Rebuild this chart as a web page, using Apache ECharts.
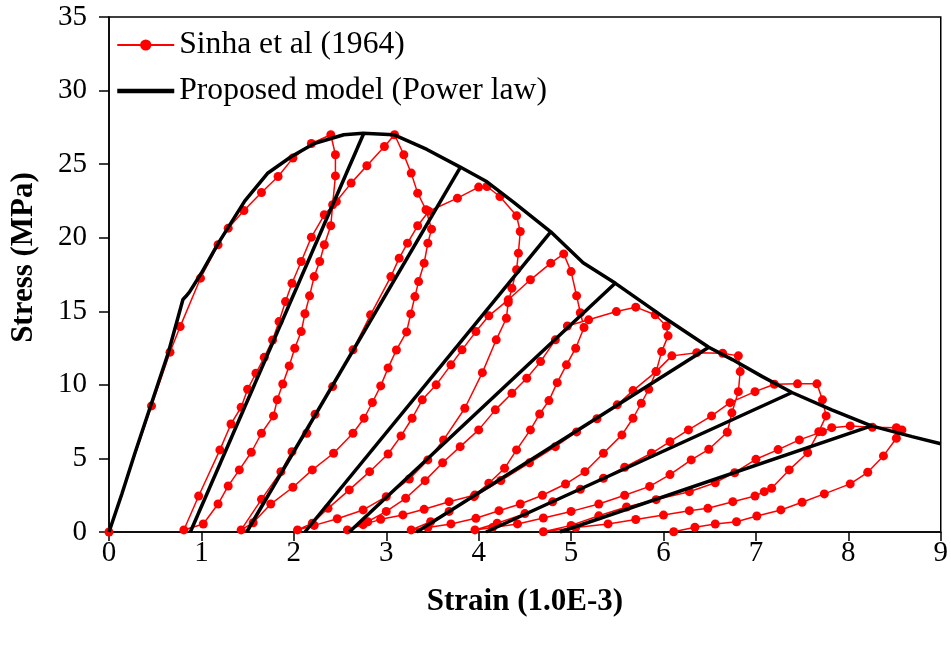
<!DOCTYPE html>
<html><head><meta charset="utf-8">
<script src="https://cdn.jsdelivr.net/npm/echarts@6/dist/echarts.min.js"></script>
<style>html,body{margin:0;padding:0;background:#fff}#c{width:951px;height:650px}</style>
</head><body><div id="c"></div>
<script>
// ---- Experimental data (Sinha et al 1964): [strain(1e-3), stress(MPa)] ----
const loading0 = [[0,0],[0.46,8.57],[0.66,12.22],[0.77,13.96],[0.99,17.25],[1.18,19.52],[1.29,20.65],[1.46,21.85],[1.65,23.07],[1.83,24.16],[1.99,25.41],[2.19,26.40],[2.40,27.0]];
const unload1 = [[2.45,25.64],[2.45,24.2],[2.42,22.24],[2.40,20.81],[2.33,19.52],[2.28,18.38],[2.22,17.36],[2.17,16.05],[2.12,14.83],[2.08,13.62],[2.01,12.49],[1.95,11.29],[1.88,10.06],[1.82,8.98],[1.78,7.89],[1.65,6.71],[1.54,5.42],[1.41,4.22],[1.29,3.13],[1.18,1.90],[1.02,0.54],[0.81,0.14]];
const reload1 = [[0.97,2.45],[1.20,5.58],[1.32,7.34],[1.43,8.48],[1.50,9.70],[1.59,10.79],[1.68,11.87],[1.77,13.05],[1.84,14.30],[1.91,15.66],[1.98,16.90],[2.08,18.38],[2.19,20.04],[2.33,21.56],[2.46,22.46],[2.62,23.71],[2.79,24.89],[2.98,26.2],[3.09,27.0]];
const unload2 = [[3.19,25.64],[3.27,24.39],[3.34,23.03],[3.43,21.9],[3.49,20.58],[3.45,19.63],[3.41,18.27],[3.35,17.02],[3.31,16.0],[3.265,14.82],[3.22,13.60],[3.11,12.37],[3.02,11.15],[2.94,9.93],[2.85,8.8],[2.76,7.73],[2.64,6.71],[2.43,5.35],[2.20,4.22],[1.99,3.04],[1.75,1.90],[1.56,0.63],[1.43,0.14]];
const reload2 = [[1.65,2.22],[1.86,4.10],[1.98,5.46],[2.14,6.71],[2.23,8.0],[2.42,9.88],[2.64,12.38],[2.83,14.76],[3.05,17.36],[3.14,18.61],[3.23,19.63],[3.34,20.81],[3.46,21.8],[3.77,22.69],[4.00,23.44],[4.09,23.48]];
const unload3 = [[4.23,22.80],[4.41,21.49],[4.45,20.42],[4.43,18.95],[4.41,17.82],[4.36,16.57],[4.32,15.6],[4.30,14.53],[4.19,13.06],[4.04,10.83],[3.85,8.41],[3.62,6.26],[3.45,4.9],[3.25,3.6],[3.00,2.4],[2.75,1.5],[2.47,0.9],[2.22,0.45],[2.04,0.14]];
const reload3 = [[2.20,0.6],[2.37,1.61],[2.60,2.86],[2.82,4.10],[3.02,5.30],[3.16,6.53],[3.28,7.73],[3.39,8.98],[3.54,10.0],[3.70,11.36],[3.82,12.38],[3.97,13.62],[4.11,14.69],[4.32,15.78],[4.56,17.14],[4.78,18.27],[4.92,18.9]];
const unload4 = [[5.00,17.7],[5.06,16.05],[5.10,14.9],[5.14,13.9],[5.05,12.49],[4.95,11.36],[4.85,10.15],[4.76,8.93],[4.66,8.02],[4.56,6.94],[4.41,5.58],[4.28,4.33],[4.11,3.31],[3.96,2.52],[3.68,2.06],[3.41,1.54],[3.18,1.16],[2.94,0.86],[2.75,0.5],[2.58,0.14]];
const reload4 = [[2.80,0.7],[3.00,1.4],[3.21,2.29],[3.42,3.49],[3.61,4.71],[3.80,5.80],[4.00,6.94],[4.18,8.30],[4.36,9.43],[4.52,10.45],[4.67,11.58],[4.83,13.06],[4.96,14.0],[5.19,14.42],[5.49,14.98],[5.70,15.28]];
const unload5 = [[5.91,14.76],[6.03,14.0],[6.05,13.33],[5.98,12.26],[5.92,10.9],[5.84,9.70],[5.76,8.75],[5.67,7.73],[5.55,6.60],[5.35,5.35],[5.15,4.10],[4.94,3.26],[4.69,2.5],[4.45,1.9],[4.22,1.45],[3.97,0.93],[3.70,0.55],[3.45,0.3],[3.27,0.14]];
const reload5 = [[3.48,0.7],[3.68,1.4],[3.95,2.4],[4.24,3.5],[4.55,4.7],[4.83,5.8],[5.06,6.8],[5.28,7.7],[5.50,8.64],[5.67,9.61],[5.92,10.9],[6.09,11.97],[6.36,12.19],[6.64,12.15],[6.81,11.97]];
const unload6 = [[6.83,10.9],[6.81,9.54],[6.74,8.1],[6.69,6.78],[6.49,5.62],[6.30,4.90],[6.07,3.9],[5.85,3.1],[5.58,2.5],[5.30,1.9],[5.00,1.4],[4.70,0.95],[4.42,0.55],[4.15,0.3],[3.96,0.14]];
const reload6 = [[4.20,0.6],[4.50,1.25],[4.80,2.05],[5.10,2.9],[5.35,3.65],[5.58,4.40],[5.87,5.35],[6.07,6.14],[6.27,6.94],[6.52,7.89],[6.72,8.79],[6.99,9.54],[7.20,10.04],[7.45,10.07],[7.66,10.07]];
const unload7 = [[7.72,8.98],[7.76,7.89],[7.68,6.82],[7.56,5.39],[7.36,4.22],[7.17,2.97],[7.09,2.74],[6.99,2.45],[6.75,2.06],[6.48,1.61],[6.28,1.45],[6.00,1.15],[5.70,0.85],[5.40,0.55],[5.05,0.3],[4.70,0.02]];
const reload7 = [[5.00,0.45],[5.30,1.1],[5.60,1.7],[5.92,2.2],[6.28,2.74],[6.56,3.35],[6.77,4.03],[7.00,4.94],[7.24,5.6],[7.47,6.26],[7.72,6.82],[7.82,7.09],[8.02,7.21],[8.26,7.12],[8.52,7.09],[8.58,6.94]];
const unload8 = [[8.52,6.37],[8.38,5.17],[8.21,4.06],[8.02,3.27],[7.74,2.59],[7.50,2.02],[7.27,1.50],[7.01,1.09],[6.79,0.70],[6.56,0.54],[6.34,0.32],[6.11,0.02]];

// ---- Proposed model (power law) ----
const envelope = [[0,0],[0.14,2.6],[0.28,5.35],[0.46,8.75],[0.64,12.15],[0.80,15.8],[0.83,16.0],[0.87,16.3],[1.0,17.6],[1.18,19.6],[1.47,22.5],[1.72,24.4],[1.97,25.5],[2.22,26.4],[2.54,27.0],[2.75,27.1],[3.08,27.0],[3.44,26.0],[3.80,24.8],[4.09,23.8],[4.38,22.4],[4.78,20.4],[5.13,18.3],[5.48,16.9],[5.99,14.65],[6.49,12.56],[6.75,11.7],[7.07,10.56],[7.39,9.48],[7.82,8.3],[8.25,7.21],[8.69,6.48],[9.0,6.0]];
const modelUnload = [
  [[0.88,0],[2.755,27.07]],
  [[1.49,0],[3.80,24.76]],
  [[2.12,0],[4.78,20.39]],
  [[2.60,0],[5.48,16.92]],
  [[3.33,0],[6.49,12.56]],
  [[4.08,0],[7.39,9.48]],
  [[4.88,0],[8.25,7.21]]
];
const xTicks = {min:0, max:9, interval:1};
const yTicks = {min:0, max:35, interval:5};

const expData = [].concat(loading0, unload1, reload1, unload2, reload2, unload3, reload3,
  unload4, reload4, unload5, reload5, unload6, reload6, unload7, reload7, unload8);

const SERIF = 'Liberation Serif, Times New Roman, serif';
const EXP = 'Sinha et al (1964)', MOD = 'Proposed model (Power law)';

const series = [{
  name: EXP, type: 'line', data: expData, symbol: 'circle', symbolSize: 9,
  itemStyle: {color: '#ff0000'}, lineStyle: {color: '#ff0000', width: 1.5}, z: 2
}, {
  name: MOD, type: 'line', data: envelope, symbol: 'none',
  itemStyle: {color: '#000'}, lineStyle: {color: '#000', width: 3.5}, z: 3
}];
modelUnload.forEach(seg => series.push({
  name: MOD, type: 'line', data: seg, symbol: 'none',
  itemStyle: {color: '#000'}, lineStyle: {color: '#000', width: 3.5}, z: 3
}));

const chart = echarts.init(document.getElementById('c'));
chart.setOption({
  animation: false,
  backgroundColor: '#fff',
  grid: {left: 107, right: 9, top: 17, bottom: 118, show: true, borderColor: '#000', borderWidth: 1.5},
  legend: {
    left: 115, top: 28, orient: 'vertical', padding: 0,
    itemWidth: 57, itemHeight: 14, itemGap: 12,
    data: [
      {name: EXP, lineStyle: {color: '#ff0000', width: 2}},
      {name: MOD, itemStyle: {opacity: 0}, lineStyle: {color: '#000', width: 4.5}}
    ],
    textStyle: {fontFamily: SERIF, fontSize: 31.6, color: '#000', lineHeight: 34}
  },
  xAxis: {
    type: 'value', min: xTicks.min, max: xTicks.max, interval: xTicks.interval,
    axisLine: {show: true, onZero: false, lineStyle: {color: '#000', width: 1.5}},
    axisTick: {show: true, length: 9, lineStyle: {color: '#000', width: 1.5}},
    axisLabel: {color: '#000', fontFamily: SERIF, fontSize: 29, margin: 7},
    splitLine: {show: false},
    name: 'Strain (1.0E-3)', nameLocation: 'middle', nameGap: 54,
    nameTextStyle: {color: '#000', fontFamily: SERIF, fontSize: 31, fontWeight: 'bold'}
  },
  yAxis: {
    type: 'value', min: yTicks.min, max: yTicks.max, interval: yTicks.interval,
    axisLine: {show: true, onZero: false, lineStyle: {color: '#000', width: 1.5}},
    axisTick: {show: true, length: 10, lineStyle: {color: '#000', width: 1.5}},
    axisLabel: {color: '#000', fontFamily: SERIF, fontSize: 29, margin: 22},
    splitLine: {show: false},
    name: 'Stress (MPa)', nameLocation: 'middle', nameGap: 70, nameRotate: 90,
    nameTextStyle: {color: '#000', fontFamily: SERIF, fontSize: 31, fontWeight: 'bold', padding: [0, 0, 0, 34]}
  },
  series: series
});
</script>
</body></html>
